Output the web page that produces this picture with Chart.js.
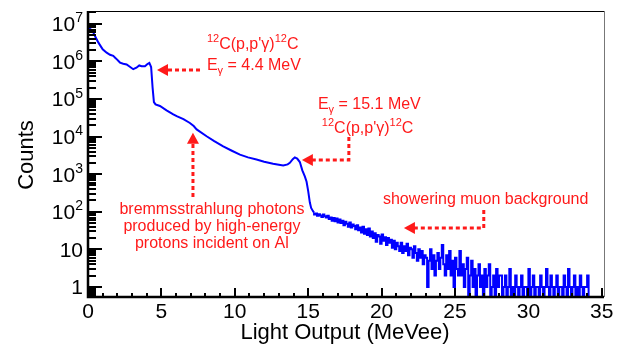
<!DOCTYPE html>
<html>
<head>
<meta charset="utf-8">
<script src="https://cdn.jsdelivr.net/npm/chart.js@4.4.1/dist/chart.umd.min.js"></script>
<style>
  html, body { margin: 0; padding: 0; background: #fff; }
</style>
</head>
<body>
<canvas id="spectrum" width="629" height="350"></canvas>
<script>
// light output (MeVee) and counts for the smooth low-energy part
const smoothLight = [0, 0, 0.2, 0.36, 0.5, 0.7, 1.0, 1.27, 1.5, 1.72, 1.9, 2.18, 2.4, 2.63, 2.85, 3.08,
  3.3, 3.49, 3.65, 3.88, 4.05, 4.18, 4.3, 4.4, 4.49, 4.6, 4.9, 5.35, 5.81, 6.04, 6.5, 6.94, 7.2, 7.4,
  8.08, 8.6, 9.21, 9.8, 10.35, 10.9, 11.48, 12.0, 12.61, 13.0, 13.3, 13.6, 13.75, 13.95, 14.09, 14.25,
  14.43, 14.6, 14.77, 14.89, 15.0, 15.11, 15.2, 15.34, 15.4];
const smoothCounts = [0, 7.9e6, 7.1e6, 5.9e6, 4.5e6, 3.2e6, 2.1e6, 1.7e6, 1.5e6, 1.4e6, 1.2e6, 9.3e5, 8.7e5, 8.3e5, 7.2e5, 6.2e5,
  6.8e5, 7.8e5, 7.4e5, 7.4e5, 8.5e5, 9.1e5, 7.1e5, 2.0e5, 8.3e4, 7.2e4, 6.5e4, 5.0e4, 3.9e4, 3.5e4, 2.9e4, 2.3e4, 1.9e4, 1.55e4,
  1.02e4, 7.6e3, 5.5e3, 4.2e3, 3.3e3, 2.8e3, 2.45e3, 2.15e3, 1.9e3, 1.78e3, 1.7e3, 1.82e3, 2.0e3, 2.5e3, 2.8e3, 2.6e3,
  2.1e3, 1.26e3, 870, 630, 355, 178, 126, 102, 95];

// noisy tail, 0.1 MeVee bins starting at 15.4 MeVee
const tailStart = 15.4;
const tailBin = 0.1;
const tailCounts = [
  95, 84, 90, 78, 86, 80, 72, 84, 76, 70,
  78, 64, 70, 58, 68, 56, 66, 52, 62, 50,
  58, 44, 54, 48, 40, 52, 38, 46, 42, 34,
  44, 32, 38, 28, 40, 26, 34, 24, 36, 22,
  30, 20, 27, 16, 24, 22, 14, 25, 17, 21,
  13, 20, 15, 18, 11, 17, 10, 15, 12, 9,
  15, 8, 12, 9, 14, 7, 11, 10, 6, 12,
  8, 5, 10, 6, 9, 4, 7, 6, 1, 5,
  10, 3, 7, 2, 5, 8, 3, 6, 13, 4,
  2, 7, 3, 9, 2, 5, 1, 6, 3, 2,
  9, 2, 4, 1, 3, 6, 0, 2, 5, 1,
  3, 0, 2, 4, 1, 2, 0, 3, 1, 2,
  4, 0, 1, 2, 0, 3, 1, 2, 2, 0,
  1, 2, 0, 1, 3, 0, 1, 0, 2, 1,
  0, 1, 2, 0, 1, 1, 0, 3, 0, 1,
  2, 0, 1, 1, 0, 2, 1, 0, 1, 3,
  1, 0, 2, 1, 0, 1, 2, 0, 1, 1,
  0, 2, 1, 0, 3, 1, 0, 1, 2, 0,
  1, 0, 2, 1, 0, 1, 1, 2, 0, 0
];

const xTicks = [0, 5, 10, 15, 20, 25, 30, 35];
const yDecades = [0, 1, 2, 3, 4, 5, 6, 7];

const FONT = "'Liberation Sans', Arial, Helvetica, sans-serif";
const RED = '#ff1a1a';
const YMIN = 0.54, YMAX = 2.19e7;

// empty bins sit on the frame bottom, as ROOT draws them on a log axis
const floor0 = c => (c > 0 ? c : YMIN);
const smoothData = smoothLight.map((v, i) => ({ x: v, y: floor0(smoothCounts[i]) }));
const tailData = tailCounts.map((c, i) => ({ x: tailStart + i * tailBin, y: floor0(c) }));

// draws a line of text made of [text, mode] parts; mode 1 = superscript, -1 = subscript
function rich(ctx, parts, px, py, size, align) {
  const small = Math.round(size * 0.68);
  let w = 0;
  parts.forEach(([t, m]) => {
    ctx.font = (m ? small : size) + 'px ' + FONT;
    w += ctx.measureText(t).width;
  });
  let cx = align === 'center' ? px - w / 2 : align === 'right' ? px - w : px;
  ctx.textAlign = 'left';
  ctx.textBaseline = 'alphabetic';
  parts.forEach(([t, m]) => {
    ctx.font = (m ? small : size) + 'px ' + FONT;
    const dy = m === 1 ? -size * 0.42 : m === -1 ? size * 0.25 : 0;
    ctx.fillText(t, cx, py + dy);
    cx += ctx.measureText(t).width;
  });
}

function dotted(ctx, pts) {
  ctx.save();
  ctx.strokeStyle = RED;
  ctx.lineWidth = 3;
  ctx.setLineDash([4, 3]);
  ctx.beginPath();
  ctx.moveTo(pts[0][0], pts[0][1]);
  for (let i = 1; i < pts.length; i++) ctx.lineTo(pts[i][0], pts[i][1]);
  ctx.stroke();
  ctx.restore();
}

function head(ctx, tip, dir) {
  // dir: 'left' or 'up'
  ctx.fillStyle = RED;
  ctx.beginPath();
  const [tx, ty] = tip;
  if (dir === 'left') {
    ctx.moveTo(tx, ty); ctx.lineTo(tx + 11, ty - 6); ctx.lineTo(tx + 11, ty + 6);
  } else {
    ctx.moveTo(tx, ty); ctx.lineTo(tx - 6, ty + 11); ctx.lineTo(tx + 6, ty + 11);
  }
  ctx.closePath();
  ctx.fill();
}

const rootStyle = {
  id: 'rootStyle',
  afterDraw(chart) {
    const { ctx, chartArea: a, scales: { x, y } } = chart;
    const P = (xv, lg) => [x.getPixelForValue(xv), y.getPixelForValue(Math.pow(10, lg))];
    ctx.save();

    // frame
    ctx.strokeStyle = '#000';
    ctx.lineWidth = 1;
    ctx.beginPath(); ctx.moveTo(a.left, a.top + 0.5); ctx.lineTo(a.right, a.top + 0.5); ctx.stroke();
    ctx.strokeStyle = '#777';
    ctx.beginPath(); ctx.moveTo(a.right + 0.5, a.top); ctx.lineTo(a.right + 0.5, a.bottom); ctx.stroke();
    ctx.strokeStyle = '#000';
    ctx.lineWidth = 2.5;
    ctx.beginPath(); ctx.moveTo(a.left, a.top); ctx.lineTo(a.left, a.bottom); ctx.lineTo(a.right, a.bottom); ctx.stroke();

    // y ticks (inside)
    ctx.lineWidth = 2;
    for (let k = -1; k <= 7; k++) {
      for (let m = 1; m <= 9; m++) {
        const v = m * Math.pow(10, k);
        if (v < y.min || v > y.max) continue;
        const py = Math.round(y.getPixelForValue(v));
        const len = m === 1 ? 14 : 8;
        ctx.beginPath(); ctx.moveTo(a.left, py); ctx.lineTo(a.left + len, py); ctx.stroke();
      }
    }
    // x ticks (inside)
    for (let v = 0; v <= 35; v++) {
      const px = Math.round(x.getPixelForValue(v));
      const len = v % 5 === 0 ? 9 : 4;
      ctx.beginPath(); ctx.moveTo(px, a.bottom); ctx.lineTo(px, a.bottom - len); ctx.stroke();
    }

    // tick labels
    ctx.fillStyle = '#000';
    ctx.font = '21px ' + FONT;
    ctx.textAlign = 'center';
    ctx.textBaseline = 'alphabetic';
    xTicks.forEach(v => ctx.fillText(String(v), x.getPixelForValue(v), a.bottom + 21));
    yDecades.forEach(k => {
      const py = y.getPixelForValue(Math.pow(10, k)) + 7.5;
      if (k === 0) rich(ctx, [['1', 0]], 83, py, 21, 'right');
      else if (k === 1) rich(ctx, [['10', 0]], 83, py, 21, 'right');
      else rich(ctx, [['10', 0], [String(k), 1]], 83, py, 21, 'right');
    });

    // axis titles
    ctx.font = '22px ' + FONT;
    ctx.textAlign = 'center';
    ctx.fillText('Light Output (MeVee)', 345, 339);
    ctx.save();
    ctx.translate(33, 155);
    ctx.rotate(-Math.PI / 2);
    ctx.fillText('Counts', 0, 0);
    ctx.restore();

    // annotations
    ctx.fillStyle = RED;
    const fs = 16;
    const reac = [['12', 1], ["C(p,p'\u03b3)", 0], ['12', 1], ['C', 0]];
    let p;
    // 4.4 MeV line
    p = P(8.1, 6.49); rich(ctx, reac, p[0], p[1] + 6, fs, 'left');
    p = P(8.1, 5.93); rich(ctx, [['E', 0], ['\u03b3', -1], [' = 4.4 MeV', 0]], p[0], p[1] + 6, fs, 'left');
    dotted(ctx, [P(7.63, 5.77), P(5.3, 5.77)]);
    head(ctx, P(4.7, 5.77), 'left');
    // 15.1 MeV line
    p = P(15.66, 4.89); rich(ctx, [['E', 0], ['\u03b3', -1], [' = 15.1 MeV', 0]], p[0], p[1] + 6, fs, 'left');
    p = P(15.93, 4.26); rich(ctx, reac, p[0], p[1] + 6, fs, 'left');
    dotted(ctx, [P(17.77, 3.99), P(17.77, 3.38), P(15.2, 3.38)]);
    head(ctx, P(14.57, 3.38), 'left');
    // bremsstrahlung
    p = P(8.44, 2.10); rich(ctx, [['bremmsstrahlung photons', 0]], p[0], p[1] + 6, fs, 'center');
    p = P(8.44, 1.65); rich(ctx, [['produced by high-energy', 0]], p[0], p[1] + 6, fs, 'center');
    p = P(8.44, 1.20); rich(ctx, [['protons incident on Al', 0]], p[0], p[1] + 6, fs, 'center');
    dotted(ctx, [P(7.15, 2.39), P(7.15, 3.85)]);
    head(ctx, P(7.15, 4.1), 'up');
    // muon background
    p = P(20.09, 2.37); rich(ctx, [['showering muon background', 0]], p[0], p[1] + 6, fs, 'left');
    dotted(ctx, [P(26.96, 2.05), P(26.96, 1.57), P(22.1, 1.57)]);
    head(ctx, P(21.52, 1.57), 'left');

    ctx.restore();
  }
};

new Chart(document.getElementById('spectrum'), {
  type: 'line',
  data: {
    datasets: [
      { data: smoothData, borderColor: '#0000ff', borderWidth: 2, pointRadius: 0, tension: 0 },
      { data: tailData, borderColor: '#0000ff', borderWidth: 2, pointRadius: 0, stepped: 'after' }
    ]
  },
  options: {
    responsive: false,
    animation: false,
    devicePixelRatio: 1,
    layout: { padding: { left: 88, right: 25, top: 11, bottom: 53 } },
    plugins: { legend: { display: false }, tooltip: { enabled: false } },
    events: [],
    scales: {
      x: { type: 'linear', min: 0, max: 35.15, display: false },
      y: { type: 'logarithmic', min: YMIN, max: YMAX, display: false }
    }
  },
  plugins: [rootStyle]
});
</script>
</body>
</html>
